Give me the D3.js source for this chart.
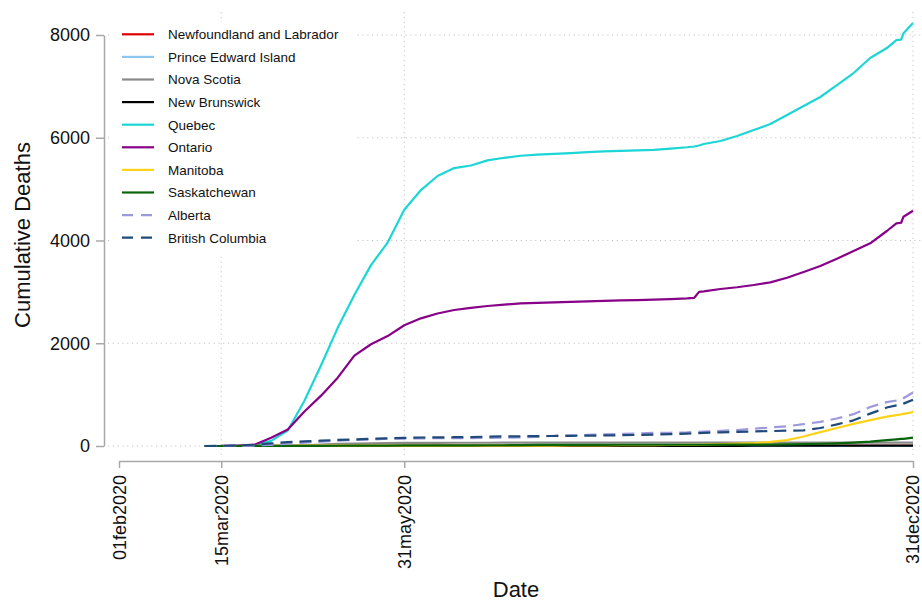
<!DOCTYPE html>
<html>
<head>
<meta charset="utf-8">
<script src="https://cdn.jsdelivr.net/npm/d3@7"></script>
<style>
  body { margin: 0; background: #fff; }
  text { font-family: "Liberation Sans", Arial, Helvetica, sans-serif; fill: #111; }
</style>
</head>
<body>
<script>

// Dates shared by every series
const dates = ["2020-03-08","2020-03-15","2020-03-22","2020-03-29","2020-04-05","2020-04-12","2020-04-19","2020-04-26",
  "2020-05-03","2020-05-10","2020-05-17","2020-05-24","2020-05-31","2020-06-07","2020-06-14","2020-06-21","2020-06-28",
  "2020-07-05","2020-07-12","2020-07-19","2020-07-26","2020-08-02","2020-08-09","2020-08-16","2020-08-23","2020-08-30",
  "2020-09-06","2020-09-13","2020-09-20","2020-09-27","2020-09-30","2020-10-02","2020-10-04","2020-10-11","2020-10-18",
  "2020-10-25","2020-11-01","2020-11-08","2020-11-15","2020-11-22","2020-11-29","2020-12-06","2020-12-13","2020-12-20",
  "2020-12-24","2020-12-26","2020-12-27","2020-12-31"];

// Cumulative deaths per province
const newfoundland = [0,0,0,0,1,3,3,3,3,3,3,3,3,3,3,3,3,3,3,3,3,3,3,3,3,3,3,3,3,3,3,3,3,3,3,3,4,4,4,4,4,4,4,4,4,4,4,4];
const pei = [0,0,0,0,0,0,0,0,0,0,0,0,0,0,0,0,0,0,0,0,0,0,0,0,0,0,0,0,0,0,0,0,0,0,0,0,0,0,0,0,0,0,0,0,0,0,0,0];
const novaScotia = [0,0,0,0,1,3,12,28,40,46,51,57,60,61,62,63,63,63,64,64,64,64,64,64,64,64,65,65,65,65,65,65,65,65,65,65,65,65,65,65,65,65,65,65,65,65,65,65];
const newBrunswick = [0,0,0,0,0,0,0,0,0,0,0,0,0,0,1,1,2,2,2,2,2,2,2,2,2,2,2,2,2,2,2,2,2,3,4,5,6,6,6,6,6,7,7,7,7,7,7,7];
const quebec = [0,0,4,15,100,300,880,1570,2300,2940,3520,3960,4600,4982,5255,5410,5460,5560,5610,5650,5670,5685,5700,5720,
  5735,5745,5755,5765,5790,5815,5830,5850,5878,5936,6034,6150,6267,6442,6617,6793,7026,7260,7552,7746,7902,7910,8032,8233];
const ontario = [0,1,10,25,160,320,670,980,1330,1760,1980,2140,2350,2485,2580,2647,2690,2725,2750,2777,2785,2795,2805,2815,
  2825,2835,2840,2850,2860,2875,2885,3000,3010,3056,3090,3134,3186,3276,3387,3503,3646,3795,3945,4185,4334,4346,4463,4580];
const manitoba = [0,0,0,1,2,4,6,6,7,7,7,7,7,7,7,7,7,7,7,8,8,9,10,11,13,16,16,17,19,20,21,24,28,37,46,55,80,115,185,270,350,430,505,571,600,615,625,660];
const saskatchewan = [0,0,0,1,2,4,4,4,5,6,6,6,11,12,13,13,14,15,15,18,20,22,23,23,23,24,24,24,24,24,24,24,24,25,25,26,28,31,35,44,52,67,85,114,130,137,140,164];
const alberta = [0,0,1,8,23,45,65,85,104,117,125,143,145,149,151,152,155,159,162,168,178,199,205,215,225,235,245,254,258,265,272,276,280,295,310,337,360,385,425,470,535,620,760,855,885,895,930,1040];
const britishColumbia = [0,4,10,25,50,75,90,105,118,128,140,150,160,165,168,171,174,183,187,189,194,195,198,201,205,210,215,222,230,240,246,250,255,265,275,285,290,298,305,350,420,500,630,750,790,800,825,901];

// Legend / series names and tick labels
const provinces = ["Newfoundland and Labrador","Prince Edward Island","Nova Scotia","New Brunswick","Quebec",
  "Ontario","Manitoba","Saskatchewan","Alberta","British Columbia"];
const yTicks = [0, 2000, 4000, 6000, 8000];
const xTicks = ["2020-02-01","2020-03-15","2020-05-31","2020-12-31"];
const xTickLabels = ["01feb2020","15mar2020","31may2020","31dec2020"];

// Line styles
const colours = ["#e00000","#8ec6ed","#8a8a8a","#000000","#1cd6d6","#880088","#ffd21a","#0a640a","#9d99dd","#1f4a7a"];
const dashed = [false,false,false,false,false,false,false,false,true,true];

const width = 922, height = 601;
const parse = d3.timeParse("%Y-%m-%d");

const svg = d3.select("body")
    .append("svg")
    .attr("width", width)
    .attr("height", height);

// Scales
const x = d3.scaleTime()
    .domain([parse("2020-02-01"), parse("2020-12-31")])
    .range([119, 913]);
const y = d3.scaleLinear()
    .domain([0, 8000])
    .range([446, 35]);

// Dotted grid lines
const grid = svg.append("g")
    .attr("stroke", "#c4c4c4")
    .attr("stroke-width", 1)
    .attr("stroke-dasharray", "1.2,3.6");
grid.selectAll("line.h")
    .data(yTicks)
    .join("line")
    .attr("class", "h")
    .attr("x1", 108).attr("x2", 921)
    .attr("y1", d => y(d)).attr("y2", d => y(d));
grid.selectAll("line.v")
    .data(xTicks.slice(1))
    .join("line")
    .attr("class", "v")
    .attr("x1", d => x(parse(d))).attr("x2", d => x(parse(d)))
    .attr("y1", 12).attr("y2", 455);

// Y axis
const yAxis = svg.append("g")
    .attr("transform", "translate(104,0)")
    .call(d3.axisLeft(y).tickValues(yTicks).tickFormat(d3.format("d"))
        .tickSize(8).tickPadding(6).tickSizeOuter(0));
yAxis.selectAll("line, path").attr("stroke", "#a8a8a8").attr("stroke-width", 1.5);
yAxis.selectAll("text")
    .style("font-size", "18px")
    .attr("fill", "#111");

// X axis
const xAxis = svg.append("g")
    .attr("transform", "translate(0,461)")
    .call(d3.axisBottom(x)
        .tickValues(xTicks.map(parse))
        .tickFormat((d, i) => xTickLabels[i])
        .tickSize(7)
        .tickSizeOuter(0));
xAxis.selectAll("line, path").attr("stroke", "#a8a8a8").attr("stroke-width", 1.5);
xAxis.selectAll("text")
    .style("font-size", "18px")
    .attr("fill", "#111")
    .attr("text-anchor", "end")
    .attr("transform", "rotate(-90)")
    .attr("x", -14)
    .attr("y", 0)
    .attr("dy", (d, i) => i === xTicks.length - 1 ? "0.28em" : "0.36em");

// Axis titles
svg.append("text")
    .attr("transform", "translate(30,235) rotate(-90)")
    .attr("text-anchor", "middle")
    .style("font-size", "22px")
    .text("Cumulative Deaths");
svg.append("text")
    .attr("x", 516)
    .attr("y", 597)
    .attr("text-anchor", "middle")
    .style("font-size", "22px")
    .text("Date");

// Series
const seriesValues = [newfoundland, pei, novaScotia, newBrunswick, quebec, ontario, manitoba, saskatchewan, alberta, britishColumbia];
const series = seriesValues.map((vals, i) => ({
    name: provinces[i],
    points: vals.map((v, j) => ({ date: parse(dates[j]), value: v }))
}));

const line = d3.line()
    .x(d => x(d.date))
    .y(d => y(d.value));

svg.append("g")
    .selectAll("path")
    .data(series)
    .join("path")
    .attr("fill", "none")
    .attr("stroke", (d, i) => colours[i])
    .attr("stroke-width", 2.2)
    .attr("stroke-linejoin", "round")
    .attr("stroke-dasharray", (d, i) => dashed[i] ? "12,7" : null)
    .attr("d", d => line(d.points));

// Legend with white background
const legend = svg.append("g");
legend.append("rect")
    .attr("x", 110).attr("y", 22)
    .attr("width", 246).attr("height", 232)
    .attr("fill", "#fff");
const rows = legend.selectAll("g.row")
    .data(provinces)
    .join("g")
    .attr("class", "row")
    .attr("transform", (d, i) => `translate(0, ${34.3 + i * 22.6})`);
rows.append("line")
    .attr("x1", 122).attr("x2", 154)
    .attr("stroke", (d, i) => colours[i])
    .attr("stroke-width", 2.2)
    .attr("stroke-dasharray", (d, i) => dashed[i] ? "11,8" : null);
rows.append("text")
    .attr("x", 168)
    .attr("dy", "0.36em")
    .style("font-size", "13.5px")
    .text(d => d);

</script>
</body>
</html>
